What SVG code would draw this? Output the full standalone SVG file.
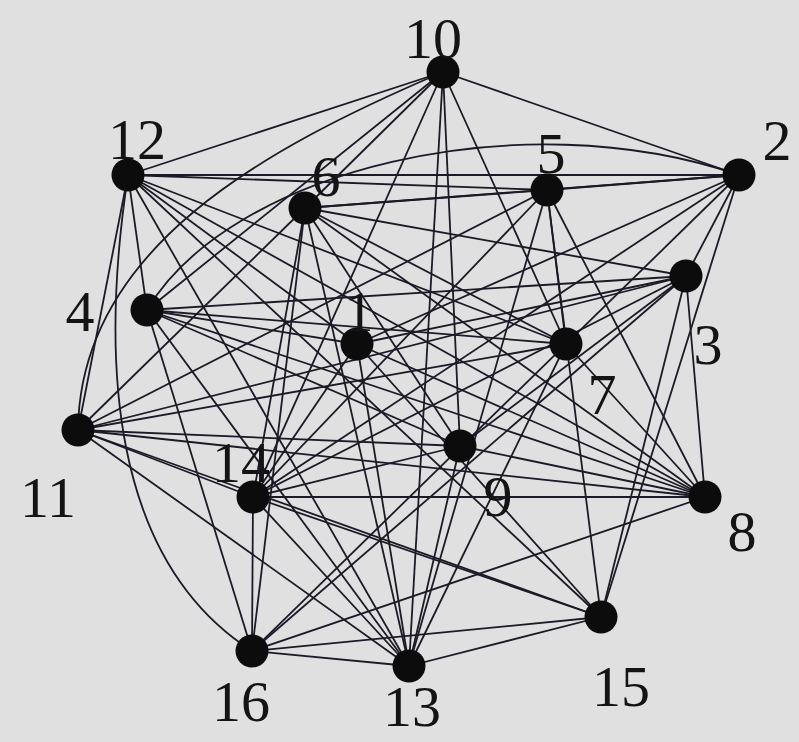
<svg xmlns="http://www.w3.org/2000/svg" width="799" height="742" viewBox="0 0 799 742">
<style>
.e{stroke:#1c1a26;stroke-width:1.8;fill:none}
.n circle{fill:#0c0c0c}
.n text{font-family:"Liberation Serif","Times New Roman",serif;font-size:58px;fill:#141414;text-anchor:middle}
</style>
<rect width="799" height="742" fill="#e0e0e0"/>
<g id="connectors">
<path class="e" d="M443,72 C260,150 80,250 78,430"/>
<path class="e" d="M128,175 C100,360 110,560 252,651"/>
<path class="e" d="M147,310 C230,170 520,100 739,175"/>
<line class="e" x1="443" y1="72" x2="128" y2="175"/>
<line class="e" x1="443" y1="72" x2="739" y2="175"/>
<line class="e" x1="443" y1="72" x2="147" y2="310"/>
<line class="e" x1="443" y1="72" x2="305" y2="208"/>
<line class="e" x1="443" y1="72" x2="253" y2="497"/>
<line class="e" x1="443" y1="72" x2="409" y2="666"/>
<line class="e" x1="443" y1="72" x2="460" y2="446"/>
<line class="e" x1="443" y1="72" x2="566" y2="344"/>
<line class="e" x1="128" y1="175" x2="739" y2="175"/>
<line class="e" x1="128" y1="175" x2="547" y2="190"/>
<line class="e" x1="128" y1="175" x2="147" y2="310"/>
<line class="e" x1="128" y1="175" x2="78" y2="430"/>
<line class="e" x1="128" y1="175" x2="566" y2="344"/>
<line class="e" x1="128" y1="175" x2="705" y2="497"/>
<line class="e" x1="128" y1="175" x2="601" y2="617"/>
<line class="e" x1="128" y1="175" x2="409" y2="666"/>
<line class="e" x1="128" y1="175" x2="357" y2="344"/>
<line class="e" x1="739" y1="175" x2="547" y2="190"/>
<line class="e" x1="739" y1="175" x2="305" y2="208"/>
<line class="e" x1="739" y1="175" x2="357" y2="344"/>
<line class="e" x1="739" y1="175" x2="253" y2="497"/>
<line class="e" x1="739" y1="175" x2="252" y2="651"/>
<line class="e" x1="739" y1="175" x2="601" y2="617"/>
<line class="e" x1="739" y1="175" x2="686" y2="276"/>
<line class="e" x1="305" y1="208" x2="547" y2="190"/>
<line class="e" x1="305" y1="208" x2="686" y2="276"/>
<line class="e" x1="305" y1="208" x2="566" y2="344"/>
<line class="e" x1="305" y1="208" x2="705" y2="497"/>
<line class="e" x1="305" y1="208" x2="460" y2="446"/>
<line class="e" x1="305" y1="208" x2="253" y2="497"/>
<line class="e" x1="305" y1="208" x2="252" y2="651"/>
<line class="e" x1="305" y1="208" x2="409" y2="666"/>
<line class="e" x1="305" y1="208" x2="78" y2="430"/>
<line class="e" x1="547" y1="190" x2="78" y2="430"/>
<line class="e" x1="547" y1="190" x2="253" y2="497"/>
<line class="e" x1="547" y1="190" x2="566" y2="344"/>
<line class="e" x1="547" y1="190" x2="601" y2="617"/>
<line class="e" x1="547" y1="190" x2="409" y2="666"/>
<line class="e" x1="547" y1="190" x2="705" y2="497"/>
<line class="e" x1="686" y1="276" x2="147" y2="310"/>
<line class="e" x1="686" y1="276" x2="357" y2="344"/>
<line class="e" x1="686" y1="276" x2="78" y2="430"/>
<line class="e" x1="686" y1="276" x2="253" y2="497"/>
<line class="e" x1="686" y1="276" x2="252" y2="651"/>
<line class="e" x1="686" y1="276" x2="460" y2="446"/>
<line class="e" x1="686" y1="276" x2="601" y2="617"/>
<line class="e" x1="686" y1="276" x2="705" y2="497"/>
<line class="e" x1="147" y1="310" x2="357" y2="344"/>
<line class="e" x1="147" y1="310" x2="566" y2="344"/>
<line class="e" x1="147" y1="310" x2="460" y2="446"/>
<line class="e" x1="147" y1="310" x2="705" y2="497"/>
<line class="e" x1="147" y1="310" x2="252" y2="651"/>
<line class="e" x1="147" y1="310" x2="409" y2="666"/>
<line class="e" x1="357" y1="344" x2="705" y2="497"/>
<line class="e" x1="357" y1="344" x2="253" y2="497"/>
<line class="e" x1="357" y1="344" x2="409" y2="666"/>
<line class="e" x1="357" y1="344" x2="601" y2="617"/>
<line class="e" x1="566" y1="344" x2="705" y2="497"/>
<line class="e" x1="566" y1="344" x2="409" y2="666"/>
<line class="e" x1="566" y1="344" x2="78" y2="430"/>
<line class="e" x1="78" y1="430" x2="460" y2="446"/>
<line class="e" x1="78" y1="430" x2="705" y2="497"/>
<line class="e" x1="78" y1="430" x2="253" y2="497"/>
<line class="e" x1="78" y1="430" x2="601" y2="617"/>
<line class="e" x1="78" y1="430" x2="409" y2="666"/>
<line class="e" x1="460" y1="446" x2="253" y2="497"/>
<line class="e" x1="460" y1="446" x2="705" y2="497"/>
<line class="e" x1="460" y1="446" x2="409" y2="666"/>
<line class="e" x1="253" y1="497" x2="705" y2="497"/>
<line class="e" x1="253" y1="497" x2="252" y2="651"/>
<line class="e" x1="253" y1="497" x2="409" y2="666"/>
<line class="e" x1="253" y1="497" x2="601" y2="617"/>
<line class="e" x1="705" y1="497" x2="252" y2="651"/>
<line class="e" x1="601" y1="617" x2="252" y2="651"/>
<line class="e" x1="601" y1="617" x2="409" y2="666"/>
<line class="e" x1="252" y1="651" x2="409" y2="666"/>
</g>
<g id="node-10" class="n"><circle cx="443" cy="72" r="16.5"/><text x="433" y="58">10</text></g>
<g id="node-12" class="n"><circle cx="128" cy="175" r="16.5"/><text x="137" y="159">12</text></g>
<g id="node-2" class="n"><circle cx="739" cy="175" r="16.5"/><text x="777" y="160">2</text></g>
<g id="node-6" class="n"><circle cx="305" cy="208" r="16.5"/><text x="326" y="196">6</text></g>
<g id="node-5" class="n"><circle cx="547" cy="190" r="16.5"/><text x="551" y="173">5</text></g>
<g id="node-3" class="n"><circle cx="686" cy="276" r="16.5"/><text x="708" y="364">3</text></g>
<g id="node-4" class="n"><circle cx="147" cy="310" r="16.5"/><text x="80" y="331">4</text></g>
<g id="node-1" class="n"><circle cx="357" cy="344" r="16.5"/><text x="359" y="331">1</text></g>
<g id="node-7" class="n"><circle cx="566" cy="344" r="16.5"/><text x="602" y="414">7</text></g>
<g id="node-11" class="n"><circle cx="78" cy="430" r="16.5"/><text x="48" y="517">11</text></g>
<g id="node-9" class="n"><circle cx="460" cy="446" r="16.5"/><text x="498" y="516">9</text></g>
<g id="node-14" class="n"><circle cx="253" cy="497" r="16.5"/><text x="241" y="482">14</text></g>
<g id="node-8" class="n"><circle cx="705" cy="497" r="16.5"/><text x="742" y="551">8</text></g>
<g id="node-15" class="n"><circle cx="601" cy="617" r="16.5"/><text x="621" y="706">15</text></g>
<g id="node-16" class="n"><circle cx="252" cy="651" r="16.5"/><text x="241" y="721">16</text></g>
<g id="node-13" class="n"><circle cx="409" cy="666" r="16.5"/><text x="412" y="726">13</text></g>
</svg>
